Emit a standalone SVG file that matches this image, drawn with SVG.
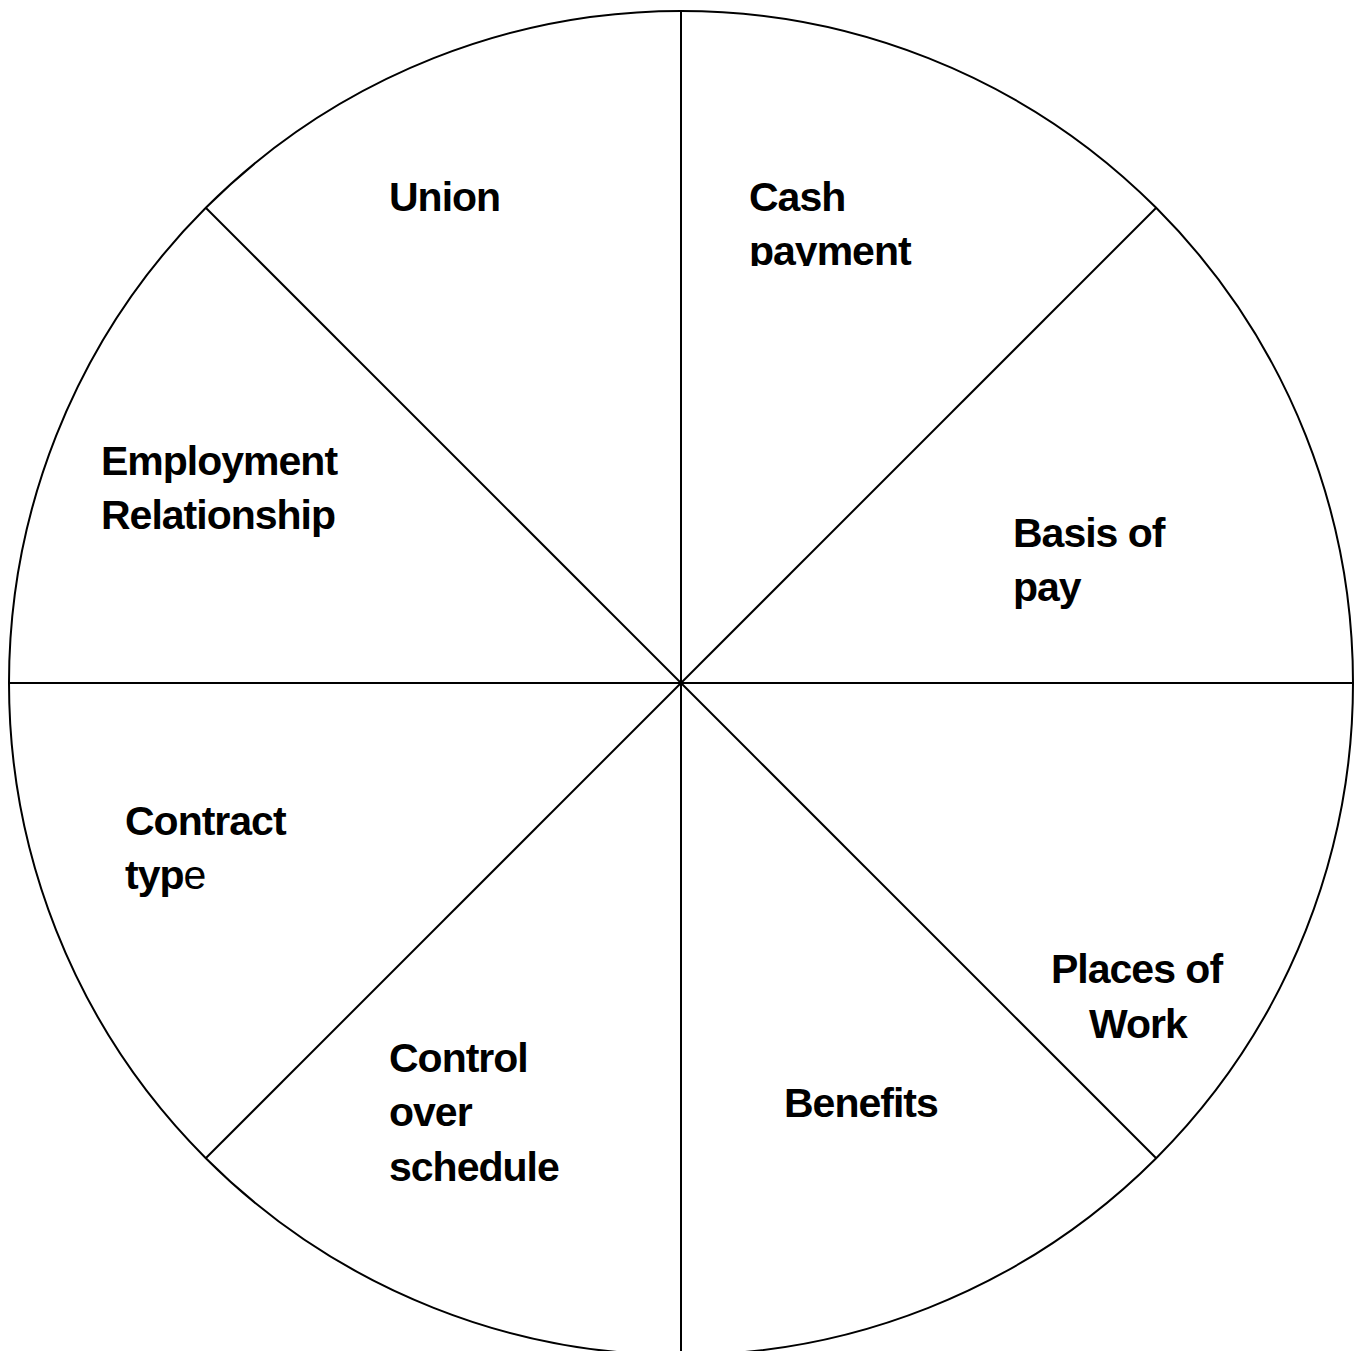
<svg xmlns="http://www.w3.org/2000/svg" width="1365" height="1351" viewBox="0 0 1365 1351">
<style>
.l{stroke:#000;stroke-width:2;fill:none}
.t{font-family:"Liberation Sans",Arial,sans-serif;font-weight:bold;font-size:41px;letter-spacing:-1px;fill:#000}
</style>
<defs><clipPath id="cp"><rect x="700" y="150" width="300" height="116"/></clipPath></defs>
<rect width="1365" height="1351" fill="#fff"/>
<g id="connectors">
<circle class="l" cx="681" cy="683" r="672"/>
<line class="l" x1="681" y1="11" x2="681" y2="1355"/>
<line class="l" x1="9" y1="683" x2="1353" y2="683"/>
<line class="l" x1="206" y1="208" x2="1156" y2="1158"/>
<line class="l" x1="1156" y1="208" x2="206" y2="1158"/>
</g>
<g id="union"><text class="t" x="389" y="211">Union</text></g>
<g id="cash" clip-path="url(#cp)"><text class="t" x="749" y="211">Cash</text><text class="t" x="749" y="265">payment</text></g>
<g id="employment"><text class="t" x="101" y="475">Employment</text><text class="t" x="101" y="529">Relationship</text></g>
<g id="basis"><text class="t" x="1013" y="547">Basis of</text><text class="t" x="1013" y="601">pay</text></g>
<g id="contract"><text class="t" x="125" y="835">Contract</text><text class="t" x="125" y="889">typ<tspan font-weight="normal">e</tspan></text></g>
<g id="places"><text class="t" x="1051" y="983">Places of</text><text class="t" x="1089" y="1038">Work</text></g>
<g id="control"><text class="t" x="389" y="1072">Control</text><text class="t" x="389" y="1126">over</text><text class="t" x="389" y="1181">schedule</text></g>
<g id="benefits"><text class="t" x="784" y="1117">Benefits</text></g>
</svg>
